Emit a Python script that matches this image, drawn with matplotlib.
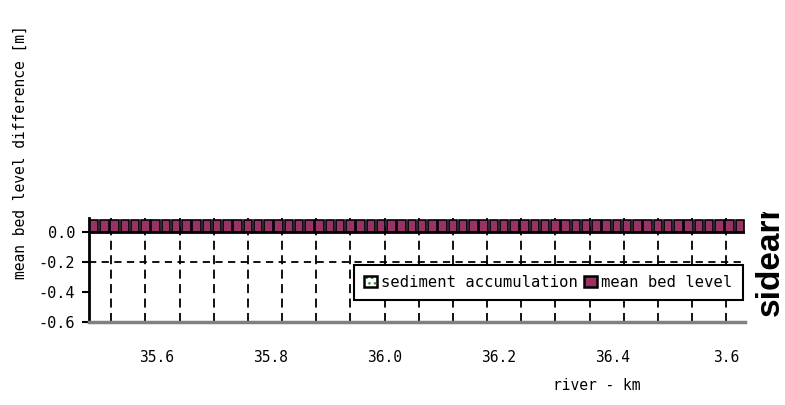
import numpy as np
import matplotlib.pyplot as plt
from matplotlib.patches import Patch, Rectangle
from matplotlib.legend_handler import HandlerTuple

# stations along the river (km) and mean bed level difference (m)
station_km = [35.490, 35.508, 35.526, 35.544, 35.562, 35.580, 35.598, 35.616,
              35.634, 35.652, 35.670, 35.688, 35.706, 35.724, 35.742, 35.760,
              35.778, 35.796, 35.814, 35.832, 35.850, 35.868, 35.886, 35.904,
              35.922, 35.940, 35.958, 35.976, 35.994, 36.012, 36.030, 36.048,
              36.066, 36.084, 36.102, 36.120, 36.138, 36.156, 36.174, 36.192,
              36.210, 36.228, 36.246, 36.264, 36.282, 36.300, 36.318, 36.336,
              36.354, 36.372, 36.390, 36.408, 36.426, 36.444, 36.462, 36.480,
              36.498, 36.516, 36.534, 36.552, 36.570, 36.588, 36.606, 36.624]
mean_bed_level = [0.08] * 64

x_ticks = [35.6, 35.8, 36.0, 36.2, 36.4, 36.6]
x_tick_labels = ['35.6', '35.8', '36.0', '36.2', '36.4', '3.6']
grid_km = [35.52, 35.58, 35.64, 35.70, 35.76, 35.82, 35.88, 35.94, 36.00, 36.06,
           36.12, 36.18, 36.24, 36.30, 36.36, 36.42, 36.48, 36.54, 36.60]
y_ticks = [0.0, -0.2, -0.4, -0.6]
y_tick_labels = ['0.0', '-0.2', '-0.4', '-0.6']

purple = '#993366'
mono = 'DejaVu Sans Mono'

fig = plt.figure(figsize=(7.85, 4.05), dpi=100)
ax = fig.add_axes([89 / 785, 1 - 322 / 405, 656 / 785, 104 / 405])

ax.bar(station_km, mean_bed_level, width=0.015, align='center',
       color=purple, edgecolor='black', linewidth=1.2, zorder=3)
ax.axhline(0, color='black', lw=2, zorder=4)
ax.axhline(-0.2, color='black', lw=1.3, ls=(0, (4, 3)), zorder=1)

ax.set_xlim(35.481, 36.633)
ax.set_ylim(-0.6, 0.093)

ax.xaxis.remove_overlapping_locs = False
ax.set_xticks(x_ticks)
ax.set_xticklabels(x_tick_labels, family=mono, fontsize=10.5)
ax.set_xticks(grid_km, minor=True)
ax.tick_params(axis='x', which='both', length=0, pad=20)
ax.grid(axis='x', which='minor', color='black', lw=1.3, ls=(0, (5, 3)), zorder=1)

ax.set_yticks(y_ticks)
ax.set_yticklabels(y_tick_labels, family=mono, fontsize=11)
ax.tick_params(axis='y', length=5, width=1.5, pad=5)

for s in ['top', 'right']:
    ax.spines[s].set_visible(False)
ax.spines['left'].set_linewidth(2)
ax.spines['bottom'].set_color('#808080')
ax.spines['bottom'].set_linewidth(2.5)

sed_handle = (Patch(facecolor='white', edgecolor='#2e8b2e', hatch='...', lw=0),
              Patch(facecolor='none', edgecolor='black', lw=1.8))
bed_handle = Patch(facecolor=purple, edgecolor='black', lw=1.8)
leg = ax.legend([sed_handle, bed_handle], ['sediment accumulation', 'mean bed level'],
                handler_map={tuple: HandlerTuple(ndivide=1, pad=0)},
                ncol=2, loc='lower left', bbox_to_anchor=(0.404, 0.21),
                prop={'family': mono, 'size': 11.2},
                frameon=True, fancybox=False, framealpha=1, edgecolor='black',
                handlelength=0.8, handleheight=0.75, handletextpad=0.3,
                columnspacing=0.4, borderpad=0.65, borderaxespad=0)
leg.get_frame().set_linewidth(1.5)
leg.set_zorder(5)

fig.text(20 / 785, 1 - 152 / 405, 'mean bed level difference [m]', rotation=90,
         ha='center', va='center', family=mono, fontsize=10.5)
fig.text(597 / 785, 1 - 385 / 405, 'river - km', ha='center', va='center',
         family=mono, fontsize=10.5)

side = fig.text(770 / 785, 1 - 316 / 405, 'sidearm', rotation=90, ha='center',
                va='bottom', family='Liberation Sans', weight='bold', fontsize=24)
side.set_clip_on(True)
side.set_clip_path(Rectangle((0, 0), 1, 1 - 212 / 405, transform=fig.transFigure))

fig.savefig('out.png', dpi=100)
